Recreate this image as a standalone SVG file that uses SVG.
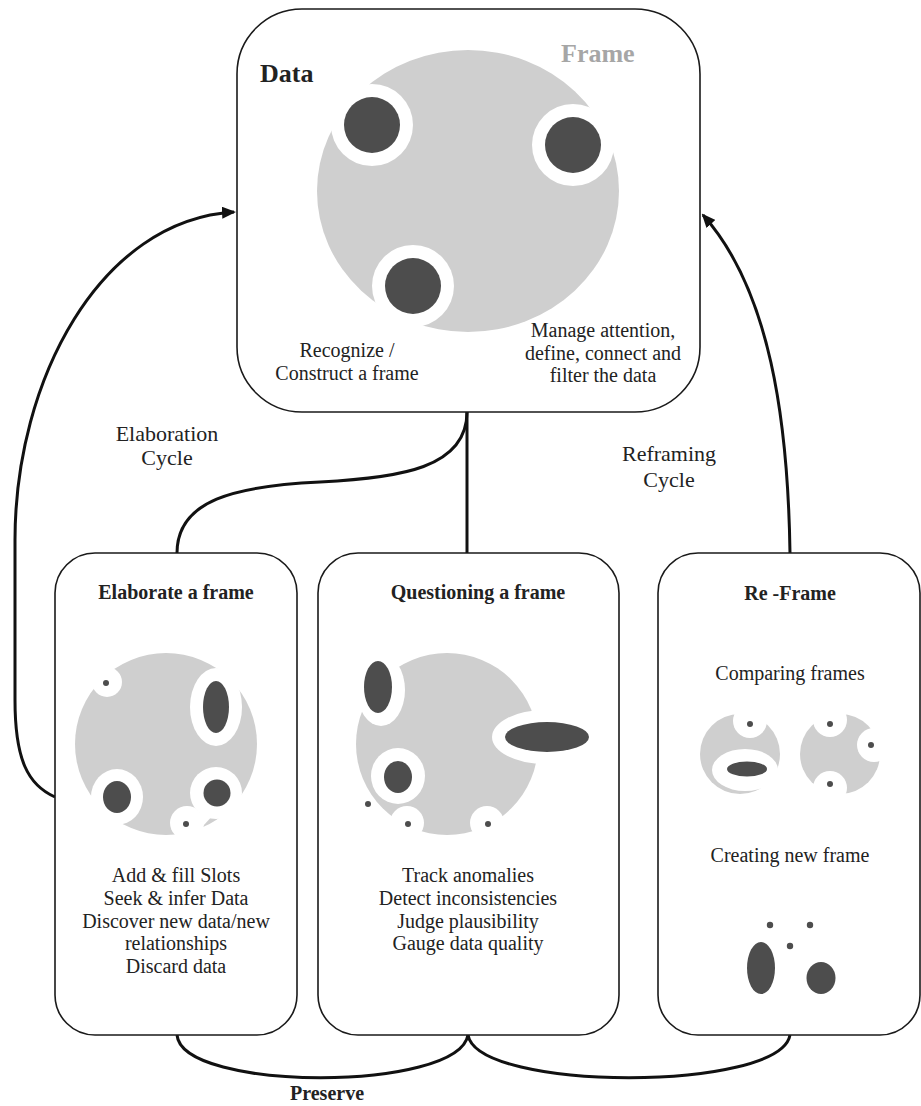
<svg xmlns="http://www.w3.org/2000/svg" width="921" height="1106" viewBox="0 0 921 1106">
<style>
.box{fill:#fff;stroke:#1a1a1a;stroke-width:1.6}
.con{fill:none;stroke:#111;stroke-width:3}
.g{fill:#cfcfcf}
.d{fill:#4d4d4d}
.w{fill:#fff}
text{font-family:"Liberation Serif","Times New Roman",serif;fill:#222}
.t{font-size:20px;text-anchor:middle}
.b{font-size:20px;font-weight:bold;text-anchor:middle}
.c{font-size:22px;text-anchor:middle}
</style>
<defs>
<marker id="ah" markerWidth="14" markerHeight="12" refX="12" refY="6" orient="auto" markerUnits="userSpaceOnUse">
<path d="M0,0 L14,6 L0,12 Z" fill="#111"/>
</marker>
</defs>
<rect width="921" height="1106" fill="#fff"/>

<g id="connectors">
<path class="con" d="M467,412 C467,468 400,478 320,482 C235,486 177,500 177,553"/>
<path class="con" d="M467,412 L467,553"/>
<path class="con" d="M790,553 C788,420 770,290 703,215" marker-end="url(#ah)"/>
<path class="con" d="M55,797 C28,785 15,760 15,700 L15,540 C15,380 100,220 234,212" marker-end="url(#ah)"/>
<path class="con" d="M177,1035 C182,1092 458,1092 468,1035"/>
<path class="con" d="M468,1035 C478,1092 780,1092 790,1035"/>
</g>

<g id="data-frame">
<rect class="box" x="237" y="9" width="463" height="403" rx="65"/>
<ellipse class="g" cx="468" cy="191" rx="151" ry="141"/>
<circle class="w" cx="372" cy="125" r="41"/>
<circle class="d" cx="372" cy="125" r="28"/>
<circle class="w" cx="573" cy="145" r="41"/>
<circle class="d" cx="573" cy="145" r="28"/>
<circle class="w" cx="413" cy="286" r="41"/>
<circle class="d" cx="413" cy="286" r="28"/>
<text x="260" y="82" style="font-size:26px;font-weight:bold">Data</text>
<text x="561" y="62" style="font-size:26px;font-weight:bold;fill:#a6a6a6">Frame</text>
<text class="t" x="347" y="357">Recognize /</text>
<text class="t" x="347" y="380">Construct a frame</text>
<text class="t" x="603" y="337">Manage attention,</text>
<text class="t" x="603" y="360">define, connect and</text>
<text class="t" x="603" y="382">filter the data</text>
</g>

<g id="elaboration-label">
<text class="c" x="167" y="441">Elaboration</text>
<text class="c" x="167" y="465">Cycle</text>
</g>
<g id="reframing-label">
<text class="c" x="669" y="461">Reframing</text>
<text class="c" x="669" y="487">Cycle</text>
</g>

<g id="elaborate">
<rect class="box" x="55" y="553" width="242" height="482" rx="40"/>
<text class="b" x="176" y="599">Elaborate a frame</text>
<circle class="g" cx="166" cy="744" r="91"/>
<circle class="w" cx="107" cy="682" r="15"/>
<circle class="d" cx="106" cy="683" r="3"/>
<ellipse class="w" cx="216" cy="707" rx="26" ry="39"/>
<ellipse class="d" cx="216" cy="707" rx="13" ry="26"/>
<ellipse class="w" cx="117" cy="797" rx="26" ry="28"/>
<ellipse class="d" cx="117" cy="797" rx="14" ry="16"/>
<circle class="w" cx="216" cy="793" r="26"/>
<circle class="d" cx="217" cy="793" r="13.5"/>
<circle class="w" cx="187" cy="823" r="17"/>
<polygon class="w" points="200,812 216,812 203,826"/>
<circle class="d" cx="186" cy="824" r="3"/>
<text class="t" x="176" y="882">Add &amp; fill Slots</text>
<text class="t" x="176" y="905">Seek &amp; infer Data</text>
<text class="t" x="176" y="928">Discover new data/new</text>
<text class="t" x="176" y="950">relationships</text>
<text class="t" x="176" y="973">Discard data</text>
</g>

<g id="questioning">
<rect class="box" x="318" y="553" width="301" height="482" rx="40"/>
<text class="b" x="478" y="599">Questioning a frame</text>
<circle class="g" cx="447" cy="744" r="91"/>
<ellipse class="w" cx="381" cy="690" rx="24" ry="36"/>
<ellipse class="d" cx="378" cy="687" rx="14" ry="26"/>
<ellipse class="w" cx="545" cy="737" rx="53" ry="27"/>
<ellipse class="d" cx="547" cy="737" rx="42" ry="15"/>
<ellipse class="w" cx="398" cy="776" rx="27" ry="28"/>
<ellipse class="d" cx="398" cy="777" rx="14" ry="16"/>
<circle class="w" cx="407" cy="823" r="17"/>
<circle class="w" cx="487" cy="823" r="17"/>
<circle class="d" cx="368" cy="804" r="3"/>
<circle class="d" cx="408" cy="824" r="3"/>
<circle class="d" cx="488" cy="824" r="3"/>
<text class="t" x="468" y="882">Track anomalies</text>
<text class="t" x="468" y="905">Detect inconsistencies</text>
<text class="t" x="468" y="928">Judge plausibility</text>
<text class="t" x="468" y="950">Gauge data quality</text>
</g>

<g id="reframe">
<rect class="box" x="658" y="553" width="262" height="482" rx="40"/>
<text class="b" x="790" y="600">Re -Frame</text>
<text class="t" x="790" y="680">Comparing frames</text>
<circle class="g" cx="740" cy="754" r="40"/>
<circle class="w" cx="750" cy="721" r="17"/>
<circle class="d" cx="750" cy="724" r="3"/>
<ellipse class="w" cx="745" cy="770" rx="33" ry="21"/>
<ellipse class="d" cx="747" cy="769" rx="20" ry="7.5"/>
<circle class="g" cx="840" cy="754" r="40"/>
<circle class="w" cx="830" cy="720" r="17"/>
<circle class="w" cx="874" cy="745" r="17"/>
<circle class="w" cx="830" cy="788" r="17"/>
<circle class="d" cx="830" cy="724" r="3"/>
<circle class="d" cx="871" cy="745" r="3"/>
<circle class="d" cx="830" cy="784" r="3"/>
<text class="t" x="790" y="862">Creating new frame</text>
<circle class="d" cx="770" cy="925" r="3.2"/>
<circle class="d" cx="810" cy="925" r="3.2"/>
<circle class="d" cx="790" cy="946" r="3.2"/>
<ellipse class="d" cx="761" cy="968" rx="14" ry="26"/>
<ellipse class="d" cx="821" cy="978" rx="14.5" ry="16"/>
</g>

<g id="preserve-label">
<text class="b" x="327" y="1100">Preserve</text>
</g>
</svg>
